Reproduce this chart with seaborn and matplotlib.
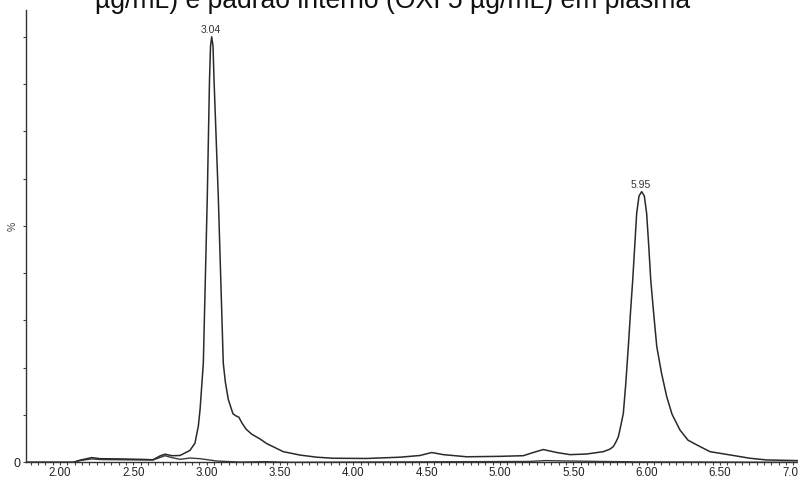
import numpy as np
import pandas as pd
import matplotlib
matplotlib.use("Agg")
import matplotlib.pyplot as plt
import seaborn as sns
from matplotlib.ticker import MultipleLocator, FixedLocator

# ---- data (time in min, intensity in %) ----
time_main = [1.77, 2.091, 2.136, 2.216, 2.273, 2.409, 2.545, 2.634, 2.682, 2.716,
             2.763, 2.818, 2.886, 2.92, 2.943, 2.955, 2.977, 3.004, 3.019,
             3.026, 3.034, 3.043, 3.05, 3.079, 3.113, 3.127, 3.147, 3.179, 3.200,
             3.219, 3.241, 3.268, 3.307, 3.363, 3.409, 3.522, 3.636, 3.75, 3.863,
             4.091, 4.318, 4.454, 4.534, 4.613, 4.772, 4.999, 5.158, 5.226, 5.294,
             5.386, 5.477, 5.59, 5.704, 5.749, 5.772, 5.79, 5.806, 5.824, 5.84,
             5.857, 5.874, 5.889, 5.904, 5.918, 5.931, 5.947, 5.965, 5.983, 5.999,
             6.013, 6.027, 6.046, 6.068, 6.1, 6.136, 6.172, 6.226, 6.281, 6.34,
             6.431, 6.59, 6.703, 6.817, 7.03]
signal_main = [0.0, 0.0, 0.5, 1.1, 0.85, 0.8, 0.7, 0.6, 1.5, 1.9,
               1.55, 1.6, 2.8, 4.5, 8.5, 12.5, 23.3, 62.4, 89.8,
               97.8, 100.0, 97.8, 89.8, 62.4, 23.3, 18.9, 14.8, 11.4, 10.9,
               10.6, 9.2, 7.8, 6.6, 5.5, 4.4, 2.5, 1.7, 1.2, 0.95,
               0.9, 1.2, 1.6, 2.3, 1.8, 1.3, 1.4, 1.55, 2.3, 3.0,
               2.3, 1.8, 1.95, 2.5, 3.1, 3.7, 4.8, 6.0, 8.8, 11.5,
               18.6, 27.2, 35.3, 42.8, 51.0, 58.5, 62.6, 63.6, 62.6, 58.5,
               51.0, 42.8, 35.3, 27.2, 21.0, 15.4, 11.3, 7.6, 5.2, 4.1,
               2.5, 1.6, 0.95, 0.55, 0.4]

time_low = [1.77, 2.09, 2.136, 2.216, 2.273, 2.545, 2.634, 2.716, 2.763, 2.818,
            2.886, 2.954, 3.07, 3.227, 3.40, 3.57, 5.2, 5.306, 5.477, 5.68,
            5.95, 7.03]
signal_low = [0.0, 0.0, 0.4, 0.8, 0.65, 0.55, 0.55, 1.55, 1.1, 0.7,
              1.0, 0.85, 0.3, 0.05, 0.15, 0.0, 0.2, 0.4, 0.3, 0.2,
              0.1, 0.0]

peak_labels = ["3.04", "5.95"]
peak_times = [3.034, 5.965]
peak_heights = [100.0, 63.6]

x_major = [2.00, 2.50, 3.00, 3.50, 4.00, 4.50, 5.00, 5.50, 6.00, 6.50, 7.00]
x_major_labels = ["2.00", "2.50", "3.00", "3.50", "4.00", "4.50", "5.00",
                  "5.50", "6.00", "6.50", "7.00"]
y_ticks = list(np.linspace(0, 100, 10))
y_tick_labels = ["0"] + [""] * 9

title_line = "µg/mL) e padrão interno (OXI 5 µg/mL) em plasma"

# ---- figure ----
sns.set_style("ticks")
plt.rcParams['font.family'] = ['Liberation Sans', 'DejaVu Sans']

fig = plt.figure(figsize=(7.98, 4.78), dpi=100)
ax = fig.add_axes([26 / 798, (478 - 462.3) / 478, (798 - 26) / 798, (462.3 - 10) / 478])

df_main = pd.DataFrame({"t": time_main, "y": signal_main})
df_low = pd.DataFrame({"t": time_low, "y": signal_low})

sns.lineplot(data=df_low, x="t", y="y", ax=ax, color="#3a3a3a", lw=1.0,
             estimator=None, sort=False)
sns.lineplot(data=df_main, x="t", y="y", ax=ax, color="#2a2a2a", lw=1.1,
             estimator=None, sort=False)

for lab, t, h in zip(peak_labels, peak_times, peak_heights):
    ax.annotate(lab, xy=(t, h), xytext=(-0.5, 1.5), textcoords="offset points",
                ha="center", va="bottom", fontsize=7.5, color="#333333")

ax.set_xlim(1.7682, 7.0307)
ax.set_ylim(0, 106.3)

ax.xaxis.set_major_locator(FixedLocator(x_major))
ax.set_xticklabels(x_major_labels, fontsize=8.3, color="#222222")
ax.xaxis.set_minor_locator(MultipleLocator(0.05))
ax.tick_params(axis="x", which="both", direction="out", length=2.0, width=0.8,
               color="#444444", pad=1)
ax.tick_params(axis="x", which="major", length=2.4)

ax.yaxis.set_major_locator(FixedLocator(y_ticks))
ax.set_yticklabels(y_tick_labels, fontsize=9, color="#222222")
ax.tick_params(axis="y", which="major", direction="out", length=2.5, width=0.8,
               color="#444444", pad=1.5)

ax.set_xlabel("")
ax.set_ylabel("%", fontsize=7.5, color="#444444", labelpad=0)
ax.yaxis.set_label_coords(-0.0105, 0.522)

for side in ["top", "right"]:
    ax.spines[side].set_visible(False)
for side in ["left", "bottom"]:
    ax.spines[side].set_color("#333333")
    ax.spines[side].set_linewidth(1.0)

fig.text(392.5 / 798, 1 - 8.0 / 478, title_line, ha="center", va="baseline",
         fontsize=19.1, color="#111111")

fig.savefig("out.png", dpi=100)
